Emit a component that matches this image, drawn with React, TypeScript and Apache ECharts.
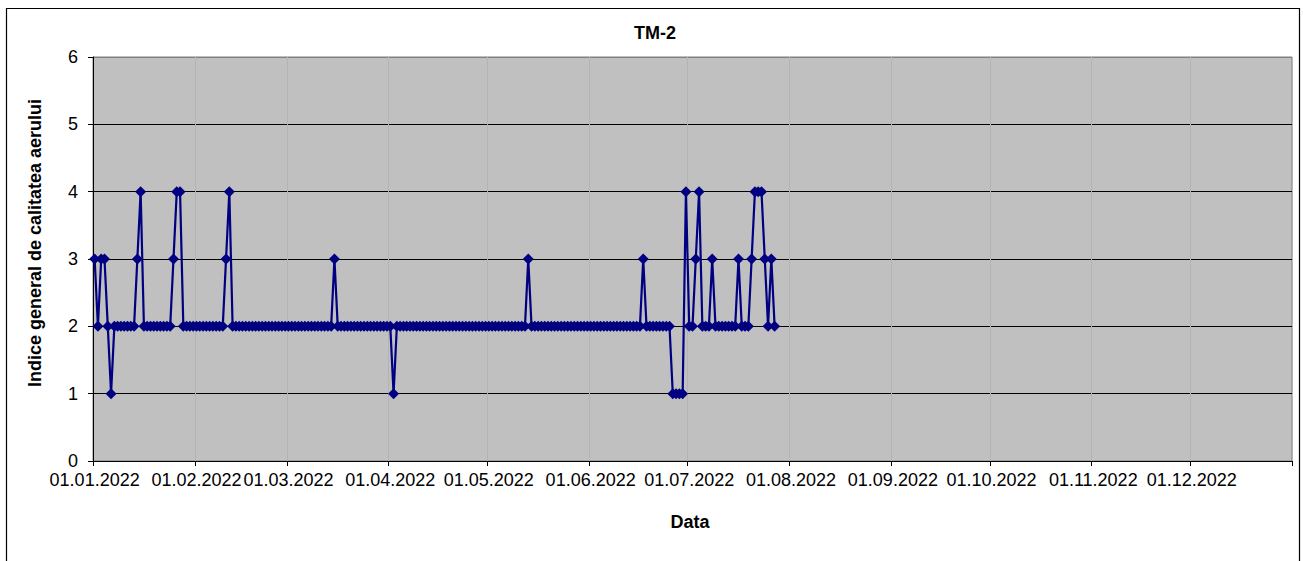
import { useEffect, useRef } from "react";
import * as echarts from "echarts";

const YEAR = 2022;
const TITLE = "TM-2";
const X_NAME = "Data";
const Y_NAME = "Indice general de calitatea aerului";

// Daily values (01.01.2022 – 27.07.2022)
const janValues = [
  3, 2, 3, 3, 2, 1, 2, 2, 2, 2,
  2, 2, 2, 3, 4, 2, 2, 2, 2, 2,
  2, 2, 2, 2, 3, 4, 4, 2, 2, 2,
  2,
];
const febValues = [
  2, 2, 2, 2, 2, 2, 2, 2, 2, 3,
  4, 2, 2, 2, 2, 2, 2, 2, 2, 2,
  2, 2, 2, 2, 2, 2, 2, 2,
];
const marValues = [
  2, 2, 2, 2, 2, 2, 2, 2, 2, 2,
  2, 2, 2, 2, 3, 2, 2, 2, 2, 2,
  2, 2, 2, 2, 2, 2, 2, 2, 2, 2,
  2,
];
const aprValues = [
  2, 1, 2, 2, 2, 2, 2, 2, 2, 2,
  2, 2, 2, 2, 2, 2, 2, 2, 2, 2,
  2, 2, 2, 2, 2, 2, 2, 2, 2, 2,
];
const mayValues = [
  2, 2, 2, 2, 2, 2, 2, 2, 2, 2,
  2, 2, 3, 2, 2, 2, 2, 2, 2, 2,
  2, 2, 2, 2, 2, 2, 2, 2, 2, 2,
  2,
];
const junValues = [
  2, 2, 2, 2, 2, 2, 2, 2, 2, 2,
  2, 2, 2, 2, 2, 2, 3, 2, 2, 2,
  2, 2, 2, 2, 2, 1, 1, 1, 1, 4,
];
const julValues = [
  2, 2, 3, 4, 2, 2, 2, 3, 2, 2,
  2, 2, 2, 2, 2, 3, 2, 2, 2, 3,
  4, 4, 4, 3, 2, 3, 2,
];

const seriesValues = [
  ...janValues,
  ...febValues,
  ...marValues,
  ...aprValues,
  ...mayValues,
  ...junValues,
  ...julValues,
];

const Y_MIN = 0;
const Y_MAX = 6;
const Y_INTERVAL = 1;

function buildDays(year: number): string[] {
  const out: string[] = [];
  const d = new Date(Date.UTC(year, 0, 1));
  while (d.getUTCFullYear() === year) {
    const dd = String(d.getUTCDate()).padStart(2, "0");
    const mm = String(d.getUTCMonth() + 1).padStart(2, "0");
    out.push(`${dd}.${mm}.${d.getUTCFullYear()}`);
    d.setUTCDate(d.getUTCDate() + 1);
  }
  return out;
}

const FONT = "'Liberation Sans', Arial, Helvetica, sans-serif";

export default function App() {
  const ref = useRef<HTMLDivElement>(null);

  useEffect(() => {
    if (!ref.current) return;
    const chart = echarts.init(ref.current, undefined, { renderer: "svg" });
    const days = buildDays(YEAR);
    const isMonthStart = (_i: number, v: string) => v.startsWith("01.");

    chart.setOption({
      animation: false,
      backgroundColor: "#ffffff",
      textStyle: { fontFamily: FONT },
      grid: {
        left: 93,
        right: 11,
        top: 57,
        bottom: 100,
        show: true,
        backgroundColor: "#c0c0c0",
        borderColor: "#808080",
        borderWidth: 1,
      },
      xAxis: {
        type: "category",
        data: days,
        boundaryGap: true,
        axisLine: { show: true, lineStyle: { color: "#000", width: 1 } },
        axisTick: {
          show: true,
          interval: isMonthStart,
          length: 5,
          lineStyle: { color: "#000", width: 1 },
        },
        axisLabel: {
          interval: isMonthStart,
          color: "#000",
          fontSize: 18,
          fontFamily: FONT,
          margin: 10,
        },
        splitLine: {
          show: true,
          interval: isMonthStart,
          lineStyle: { color: "#b4b4b4", width: 1 },
        },
      },
      yAxis: {
        type: "value",
        min: Y_MIN,
        max: Y_MAX,
        interval: Y_INTERVAL,
        axisLine: { show: true, lineStyle: { color: "#000", width: 1 } },
        axisTick: { show: true, length: 5, lineStyle: { color: "#000", width: 1 } },
        axisLabel: {
          color: "#000",
          fontSize: 18,
          fontFamily: FONT,
          margin: 15,
        },
        splitLine: {
          show: true,
          lineStyle: {
            color: ["#000", "#000", "#000", "#000", "#000", "#000", "#808080"],
            width: 1,
          },
        },
      },
      series: [
        {
          type: "line",
          data: seriesValues,
          symbol: "diamond",
          symbolSize: 11,
          showAllSymbol: true,
          lineStyle: { color: "#000080", width: 2.2 },
          itemStyle: { color: "#000080" },
        },
      ],
      graphic: [
        {
          type: "rect",
          shape: { x: 6.5, y: 8.5, width: 1293, height: 600 },
          style: { fill: "none", stroke: "#000", lineWidth: 1.2 },
          silent: true,
        },
        {
          type: "text",
          x: 655,
          y: 33,
          style: {
            text: TITLE,
            fontFamily: FONT,
            fontSize: 18,
            fontWeight: "bold",
            fill: "#000",
            align: "center",
            verticalAlign: "middle",
          },
        },
        {
          type: "text",
          x: 690,
          y: 522,
          style: {
            text: X_NAME,
            fontFamily: FONT,
            fontSize: 18,
            fontWeight: "bold",
            fill: "#000",
            align: "center",
            verticalAlign: "middle",
          },
        },
        {
          type: "text",
          x: 35,
          y: 243,
          rotation: Math.PI / 2,
          style: {
            text: Y_NAME,
            fontFamily: FONT,
            fontSize: 18,
            fontWeight: "bold",
            fill: "#000",
            align: "center",
            verticalAlign: "middle",
          },
        },
      ],
    });

    return () => chart.dispose();
  }, []);

  return (
    <div
      ref={ref}
      style={{ position: "absolute", left: 0, top: 0, width: 1303, height: 561 }}
    />
  );
}
